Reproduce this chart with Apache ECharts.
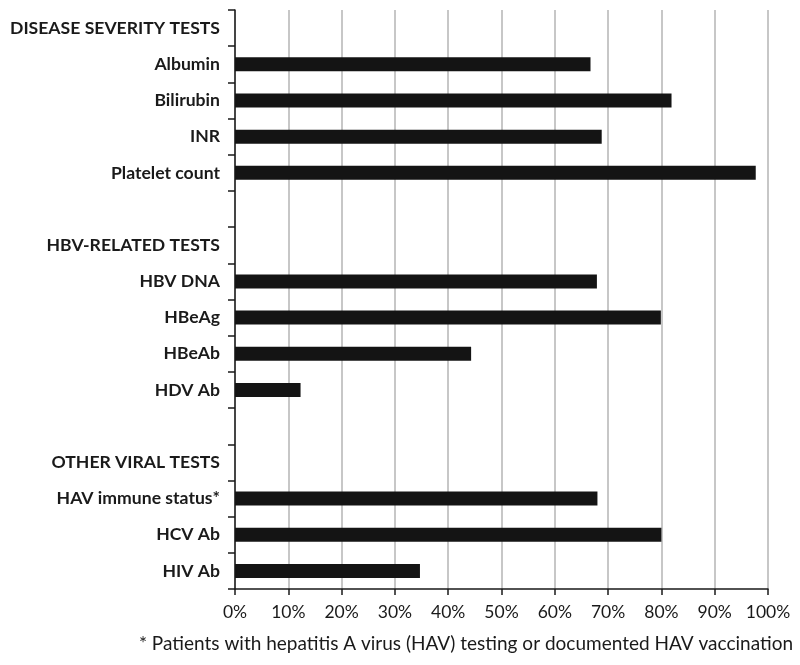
<!DOCTYPE html>
<html>
<head>
<meta charset="utf-8">
<script src="https://cdn.jsdelivr.net/npm/echarts@6/dist/echarts.min.js"></script>
<style>html,body{margin:0;padding:0;background:#fff;}#c{width:800px;height:665px;}</style>
</head>
<body>
<div id="c"></div>
<script>
var categories = [
  'DISEASE SEVERITY TESTS', 'Albumin', 'Bilirubin', 'INR', 'Platelet count', ' ',
  'HBV-RELATED TESTS', 'HBV DNA', 'HBeAg', 'HBeAb', 'HDV Ab', '  ',
  'OTHER VIRAL TESTS', 'HAV immune status*', 'HCV Ab', 'HIV Ab'
];
var values = [
  null, 66.7, 81.9, 68.8, 97.7, null,
  null, 67.9, 79.9, 44.3, 12.3, null,
  null, 68.0, 80.0, 34.7
];
var xTicks = [0, 10, 20, 30, 40, 50, 60, 70, 80, 90, 100];
var footnote = '* Patients with hepatitis A virus (HAV) testing or documented HAV vaccination';

var chart = echarts.init(document.getElementById('c'), null, {renderer: 'canvas'});
var font = 'Lato, "Open Sans", sans-serif';
chart.setOption({
  animation: false,
  backgroundColor: '#fff',
  title: {
    text: footnote,
    left: 461, top: 629, textAlign: 'center',
    textStyle: {fontFamily: font, fontSize: 19, fontWeight: 'normal', color: '#1a1a1a'}
  },
  grid: {left: 235, right: 32, top: 10, bottom: 76, containLabel: false},
  xAxis: {
    type: 'value', min: xTicks[0], max: xTicks[xTicks.length - 1], interval: 10,
    axisLine: {show: true, lineStyle: {color: '#1a1a1a', width: 1.5}},
    axisTick: {show: true, length: 6, lineStyle: {color: '#1a1a1a', width: 1.5}},
    axisLabel: {formatter: '{value}%', fontFamily: font, fontSize: 17.5, color: '#1a1a1a', margin: 14},
    splitLine: {show: true, lineStyle: {color: '#b4b4b4', width: 1.5}}
  },
  yAxis: {
    type: 'category', data: categories, inverse: true,
    axisLine: {show: true, lineStyle: {color: '#1a1a1a', width: 1.5}},
    axisTick: {show: true, length: 7, interval: 0, lineStyle: {color: '#1a1a1a', width: 1.5}},
    axisLabel: {interval: 0, fontFamily: font, fontSize: 17.6, fontWeight: 'bold', color: '#1a1a1a', margin: 15}
  },
  series: [{
    type: 'bar', data: values, barWidth: 14,
    itemStyle: {color: '#141414'}
  }]
});
</script>
</body>
</html>
